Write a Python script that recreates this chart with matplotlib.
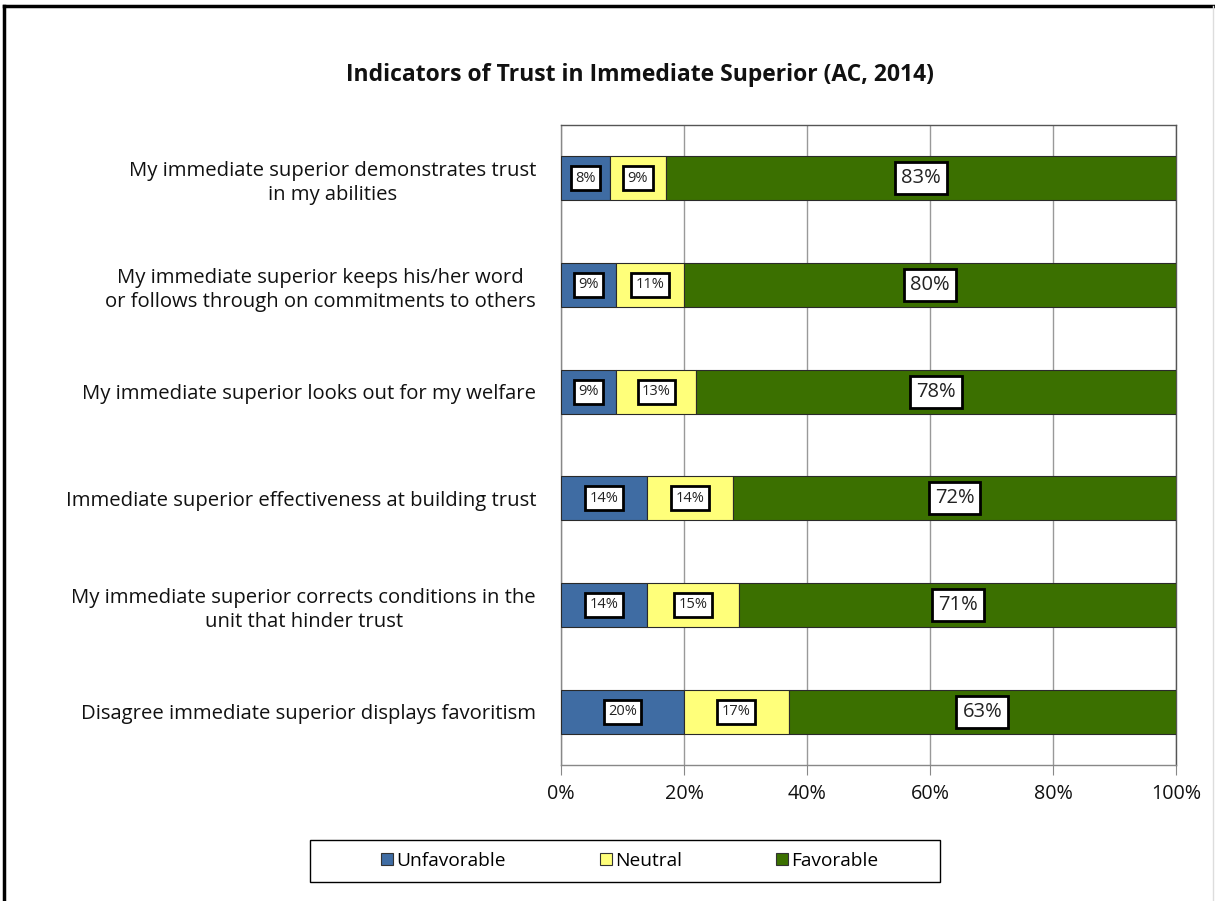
import matplotlib
matplotlib.use("Agg")
import matplotlib.pyplot as plt
from matplotlib.patches import Patch, Rectangle
from matplotlib.lines import Line2D
import numpy as np

plt.rcParams['font.family'] = ['Open Sans', 'DejaVu Sans']

categories = [
    "My immediate superior demonstrates trust\nin my abilities",
    "My immediate superior keeps his/her word\nor follows through on commitments to others",
    "My immediate superior looks out for my welfare",
    "Immediate superior effectiveness at building trust",
    "My immediate superior corrects conditions in the\nunit that hinder trust",
    "Disagree immediate superior displays favoritism",
]
unfavorable = [8, 9, 9, 14, 14, 20]
neutral = [9, 11, 13, 14, 15, 17]
favorable = [83, 80, 78, 72, 71, 63]
series_names = ["Unfavorable", "Neutral", "Favorable"]
colors = ["#3F6CA3", "#FFFF7A", "#3B7000"]
xticks = [0, 20, 40, 60, 80, 100]
title = "Indicators of Trust in Immediate Superior (AC, 2014)"

fig = plt.figure(figsize=(12.15, 9.01), dpi=100)
ax = fig.add_axes([561/1215, 1-765/901, (1176-561)/1215, (765-125)/901])

y = np.arange(len(categories))
h = 0.41
left = np.zeros(len(categories))
for vals, col, name in zip([unfavorable, neutral, favorable], colors, series_names):
    vals = np.array(vals, dtype=float)
    ax.barh(y, vals, left=left, height=h, color=col, edgecolor="#2a2a2a",
            linewidth=0.8, zorder=3, label=name)
    for yi, l, v in zip(y, left, vals):
        big = name == "Favorable"
        ax.text(l + v/2, yi, f"{int(v)}%", ha="center", va="center",
                fontsize=14.5 if big else 10.5, color="#222222", zorder=5,
                bbox=dict(boxstyle="square,pad=0.3", fc="white", ec="black", lw=2))
    left += vals

ax.set_ylim(len(categories)-0.5, -0.5)
ax.set_xlim(0, 100)
ax.set_yticks(y)
ax.set_yticklabels(categories, fontsize=14.6, multialignment="center", color="#111111",
                   linespacing=1.3)
ax.tick_params(axis="y", length=0, pad=18)
ax.set_xticks(xticks)
ax.set_xticklabels([f"{t}%" for t in xticks], fontsize=14.2, color="#111111")
ax.tick_params(axis="x", length=7, direction="out", color="#888888", pad=7)
ax.grid(axis="x", color="#999999", linewidth=1, zorder=0)
ax.set_axisbelow(True)
for s in ["top", "right"]:
    ax.spines[s].set_color("#555555")
    ax.spines[s].set_linewidth(1)
for s in ["left", "bottom"]:
    ax.spines[s].set_color("#888888")
    ax.spines[s].set_linewidth(1)

fig.text(640/1215, 1-75/901, title, ha="center", va="center", fontsize=16.5, fontweight="bold", color="#111111")

# legend frame (drawn separately to match the wide padding)
fig.add_artist(Rectangle((310/1215, 1-882/901), (940-310)/1215, (882-840)/901,
                         transform=fig.transFigure, fill=False, edgecolor="black", lw=1))
handles = [Patch(facecolor=c, edgecolor="#333333", linewidth=0.8) for c in colors]
leg = fig.legend(handles, series_names, loc="center", bbox_to_anchor=(630/1215, 1-861/901),
                 ncol=3, fontsize=13.8, frameon=False,
                 handlelength=0.6, handleheight=0.6, handletextpad=0.2,
                 columnspacing=4.9, borderpad=0.3, borderaxespad=0)

# outer figure border
fig.add_artist(Line2D([4/1215, 4/1215], [0, 1-6/901], transform=fig.transFigure, color="black", lw=2.5))
fig.add_artist(Line2D([4/1215, 1213/1215], [1-6/901, 1-6/901], transform=fig.transFigure, color="black", lw=2.5))
fig.add_artist(Line2D([1213/1215, 1213/1215], [0, 1-6/901], transform=fig.transFigure, color="#dddddd", lw=1))

fig.savefig("out.png", dpi=100)
